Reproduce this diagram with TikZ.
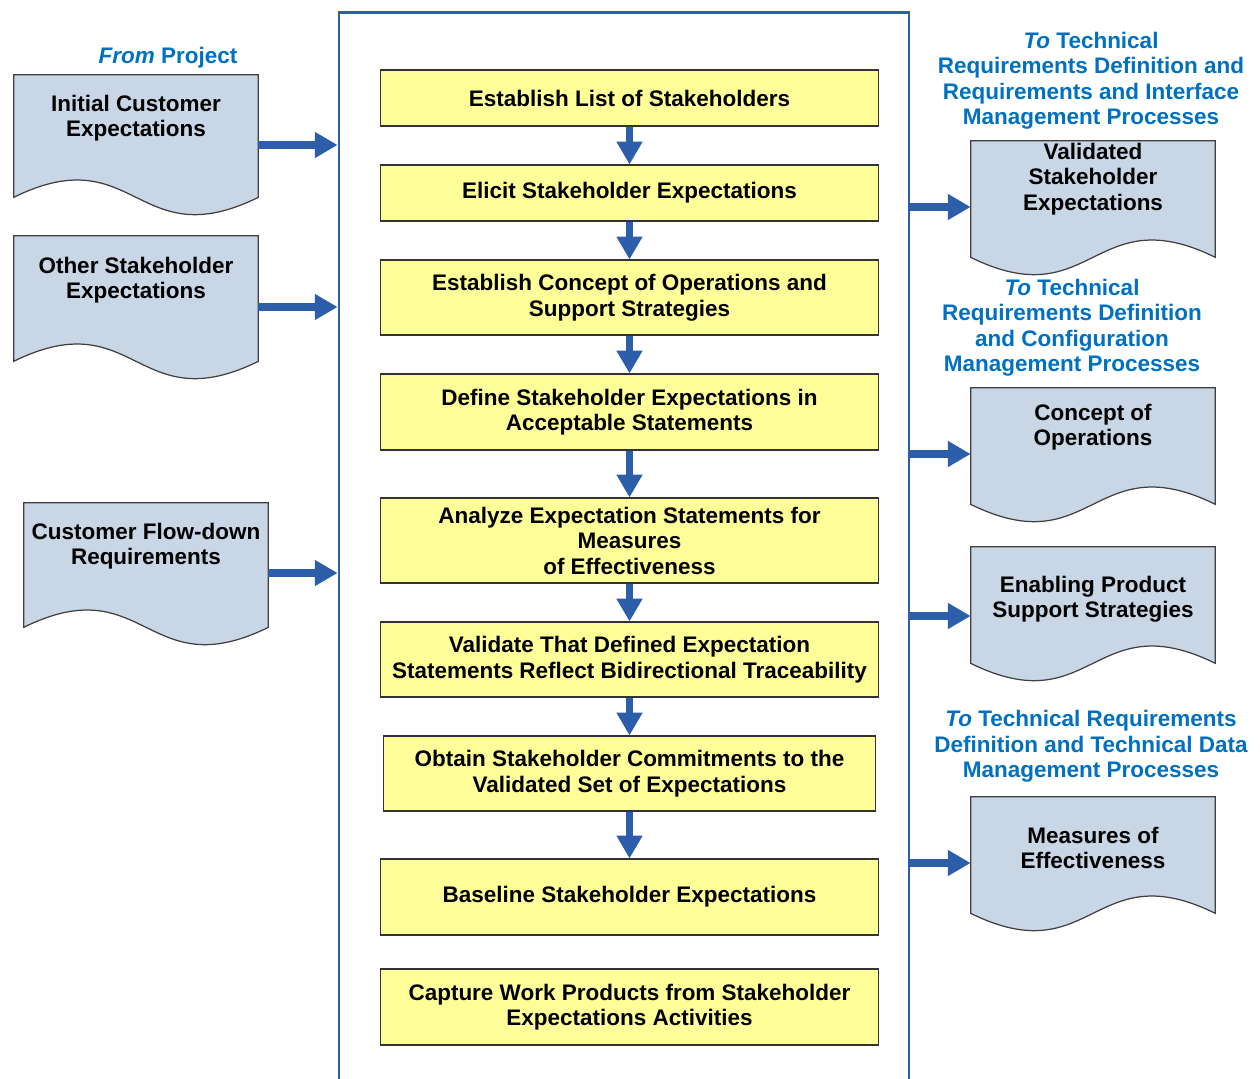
\documentclass[tikz,border=0pt]{standalone}
\usepackage{fontspec}
\setmainfont{Liberation Sans}
\usetikzlibrary{arrows.meta}

\definecolor{stepyellow}{RGB}{255,255,153}
\definecolor{docblue}{RGB}{200,214,229}
\definecolor{flowblue}{RGB}{44,94,170}
\definecolor{labelblue}{RGB}{0,112,192}

\begin{document}
\begin{tikzpicture}
		[x=0.02cm, y=-0.02cm,
		 every node/.style={font=\fontsize{12.8}{14.5}\selectfont\bfseries, align=center},
		 stepbox/.style={draw=black!80, line width=0.6pt, fill=stepyellow, minimum width=9.98cm, inner sep=0pt},
		 doc/.style={minimum width=4.88cm, inner sep=0pt},
		 docline/.style={draw=black!75, fill=docblue, line width=0.7pt},
		 note/.style={text=labelblue},
		 frame/.style={draw=flowblue, line width=1.6pt, minimum width=11.4cm, minimum height=21.96cm, inner sep=0pt},
		 flow/.style={draw=flowblue, line width=4pt, -{Triangle[length=13pt,width=14pt]}},
		 flowback/.style={draw=flowblue, line width=4pt, {Triangle[length=13pt,width=14pt]}-}]

		\path[use as bounding box, fill=white] (0,0) rectangle (1260,1078);

		\node[frame] (proc) at (624,561) {};

		% process steps
		\node[stepbox, minimum height=1.12cm] (s1) at (629.5,98) {Establish List of Stakeholders}
		;

		\node[stepbox, minimum height=1.12cm] (s2) at (629.5,193) {Elicit Stakeholder Expectations}
			edge [flowback]	(s1)
		;

		\node[stepbox, minimum height=1.5cm] (s3) at (629.5,297.5) {Establish Concept of Operations and\\Support Strategies}
			edge [flowback]	(s2)
		;

		\node[stepbox, minimum height=1.52cm] (s4) at (629.5,412) {Define Stakeholder Expectations in\\Acceptable Statements}
			edge [flowback]	(s3)
		;

		\node[stepbox, minimum height=1.7cm] (s5) at (629.5,540.5) {Analyze Expectation Statements for\\Measures\\of Effectiveness}
			edge [flowback]	(s4)
		;

		\node[stepbox, minimum height=1.5cm] (s6) at (629.5,659.5) {Validate That Defined Expectation\\Statements Reflect Bidirectional Traceability}
			edge [flowback]	(s5)
		;

		\node[stepbox, minimum height=1.5cm, minimum width=9.86cm] (s7) at (629.5,773.5) {Obtain Stakeholder Commitments to the\\Validated Set of Expectations}
			edge [flowback]	(s6)
		;

		\node[stepbox, minimum height=1.52cm] (s8) at (629.5,897) {Baseline Stakeholder Expectations}
			edge [flowback]	(s7)
		;

		\node[stepbox, minimum height=1.52cm] (s9) at (629.5,1007) {Capture Work Products from Stakeholder\\Expectations Activities}
		;

		% inputs
		\node[note] (from) at (168,57.5) {\textit{From} Project};

		\node[doc, minimum height=2.44cm] (d1) at (136,136) {};
		\filldraw[docline] (d1.south west) |- (d1.north east) -- (d1.south east) .. controls +(-122,60) and +(122,-60) .. (d1.south west) -- cycle;
		\node (d1t) at (136,118) {Initial Customer\\Expectations};

		\node[doc, minimum height=2.5cm] (d2) at (136,298.5) {};
		\filldraw[docline] (d2.south west) |- (d2.north east) -- (d2.south east) .. controls +(-122,60) and +(122,-60) .. (d2.south west) -- cycle;
		\node (d2t) at (136,280) {Other Stakeholder\\Expectations};

		\node[doc, minimum height=2.48cm] (d3) at (146,565) {};
		\filldraw[docline] (d3.south west) |- (d3.north east) -- (d3.south east) .. controls +(-122,60) and +(122,-60) .. (d3.south west) -- cycle;
		\node (d3t) at (146,546) {Customer Flow-down\\Requirements};

		\draw[flow] ([yshift=-1.8mm]d1.east) -- ([yshift=-1.8mm]d1.east -| proc.west);
		\draw[flow] ([yshift=-1.7mm]d2.east) -- ([yshift=-1.7mm]d2.east -| proc.west);
		\draw[flow] ([yshift=-1.6mm]d3.east) -- ([yshift=-1.6mm]d3.east -| proc.west);

		% outputs
		\node[note] (to1) at (1091,80.5) {\textit{To} Technical\\Requirements Definition and\\Requirements and Interface\\Management Processes};
		\node[note] (to2) at (1072,327.5) {\textit{To} Technical\\Requirements Definition\\and Configuration\\Management Processes};
		\node[note] (to3) at (1091,746.5) {\textit{To} Technical Requirements\\Definition and Technical Data\\Management Processes};

		\node[doc, minimum height=2.32cm] (r1) at (1093,199) {};
		\filldraw[docline] (r1.south west) |- (r1.north east) -- (r1.south east) .. controls +(-122,-60) and +(122,60) .. (r1.south west) -- cycle;
		\node (r1t) at (1093,179) {Validated\\Stakeholder\\Expectations};

		\node[doc, minimum height=2.32cm] (r2) at (1093,446) {};
		\filldraw[docline] (r2.south west) |- (r2.north east) -- (r2.south east) .. controls +(-122,-60) and +(122,60) .. (r2.south west) -- cycle;
		\node (r2t) at (1093,427) {Concept of\\Operations};

		\node[doc, minimum height=2.32cm] (r3) at (1093,605) {};
		\filldraw[docline] (r3.south west) |- (r3.north east) -- (r3.south east) .. controls +(-122,-60) and +(122,60) .. (r3.south west) -- cycle;
		\node (r3t) at (1093,599) {Enabling Product\\Support Strategies};

		\node[doc, minimum height=2.32cm] (r4) at (1093,855) {};
		\filldraw[docline] (r4.south west) |- (r4.north east) -- (r4.south east) .. controls +(-122,-60) and +(122,60) .. (r4.south west) -- cycle;
		\node (r4t) at (1093,848) {Measures of\\Effectiveness};

		\draw[flow] ([yshift=-1.6mm]r1.west -| proc.east) -- ([yshift=-1.6mm]r1.west);
		\draw[flow] ([yshift=-1.6mm]r2.west -| proc.east) -- ([yshift=-1.6mm]r2.west);
		\draw[flow] ([yshift=-2.2mm]r3.west -| proc.east) -- ([yshift=-2.2mm]r3.west);
		\draw[flow] ([yshift=-1.6mm]r4.west -| proc.east) -- ([yshift=-1.6mm]r4.west);

	\end{tikzpicture}
\end{document}
